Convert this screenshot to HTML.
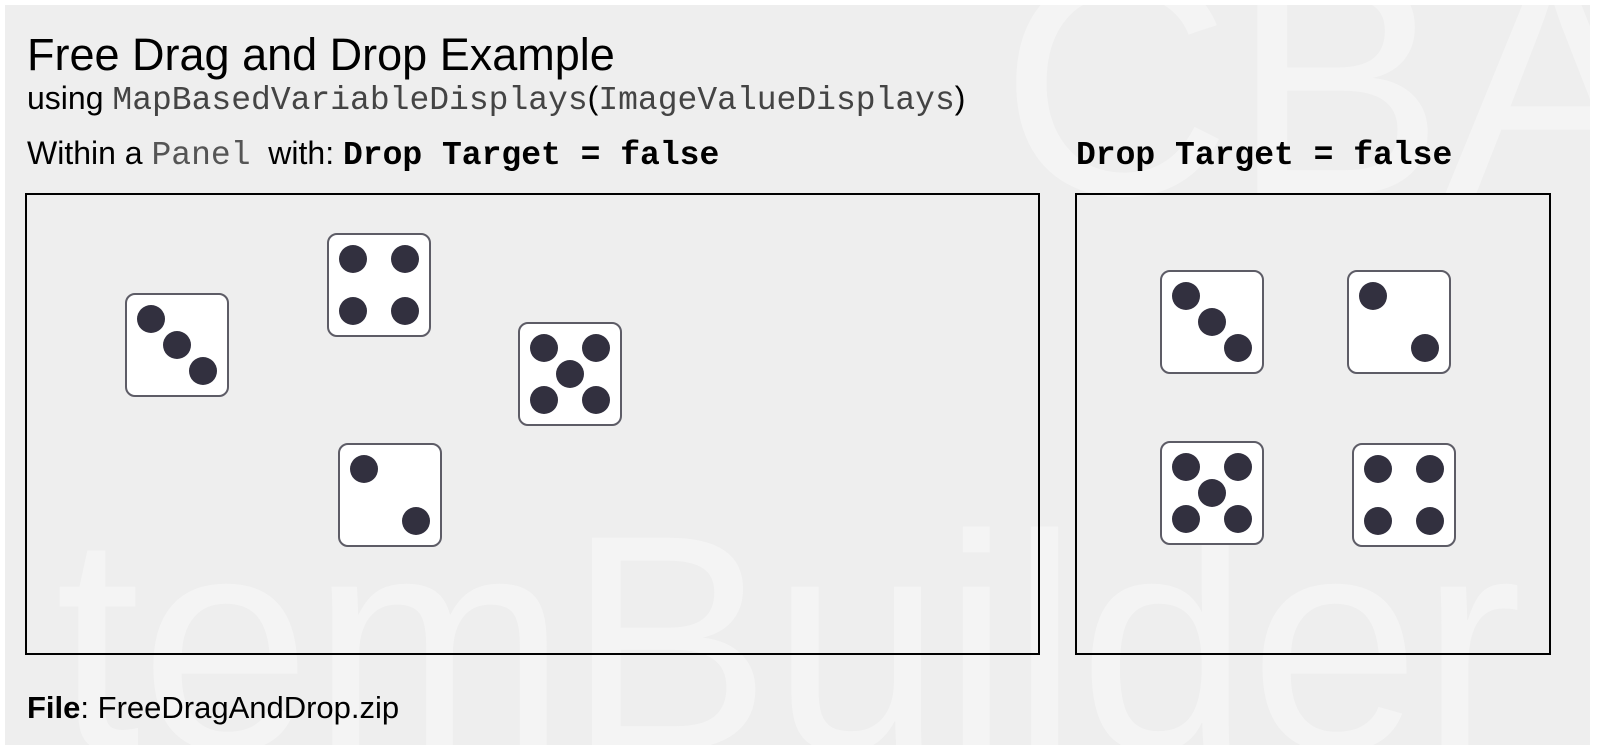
<!DOCTYPE html>
<html><head><meta charset="utf-8"><style>
body{margin:0;width:1600px;height:750px;background:#fff;position:relative;overflow:hidden;font-family:"Liberation Sans",Arial,sans-serif}
#bg{position:absolute;left:5px;top:5px;width:1585px;height:740px;background:#eeeeee;overflow:hidden}
.wm{position:absolute;color:#f4f4f4;line-height:1;white-space:nowrap}
.t{position:absolute;white-space:nowrap;color:#000}
.mono{font-family:"Liberation Mono",monospace;font-size:33px}
.box{position:absolute;border:2px solid #000;box-sizing:border-box}
.die{position:absolute;width:104px;height:104px;background:#fff;border:2px solid #5d5c66;border-radius:10px;box-sizing:border-box}
.d{position:absolute;width:28px;height:28px;border-radius:50%;background:#32303f;transform:translate(-14px,-14px)}
</style></head><body>
<div id="bg">
<div class="wm" style="left:995px;top:-82px;font-size:320px">CBA</div>
<div class="wm" style="left:50px;top:485px;font-size:307px">temBuilder</div>
</div>
<div class="t" style="left:27px;top:29px;font-size:45px">Free Drag and Drop Example</div>
<div class="t" style="left:27px;top:80px;font-size:32px">using <span class="mono" style="color:#444">MapBasedVariableDisplays</span>(<span class="mono" style="color:#444">ImageValueDisplays</span>)</div>
<div class="t" style="left:27px;top:135px;font-size:32px">Within a <span class="mono" style="color:#555">Panel</span>&nbsp; with: <b class="mono">Drop Target = false</b></div>
<div class="t" style="left:1076px;top:135px;font-size:32px"><b class="mono">Drop Target = false</b></div>
<div class="box" style="left:25px;top:193px;width:1015px;height:462px"></div>
<div class="box" style="left:1075px;top:193px;width:476px;height:462px"></div>
<div class="t" style="left:27px;top:690px;font-size:31px"><b>File</b>: FreeDragAndDrop.zip</div>
<div id="dice"></div>
<script>
var P={2:[[26,26],[78,78]],3:[[26,26],[52,52],[78,78]],4:[[26,26],[78,26],[26,78],[78,78]],5:[[26,26],[78,26],[52,52],[26,78],[78,78]]};
var D=[[125,293,3],[327,233,4],[518,322,5],[338,443,2],[1160,270,3],[1347,270,2],[1160,441,5],[1352,443,4]];
var h='';D.forEach(function(a){h+='<div class="die" style="left:'+a[0]+'px;top:'+a[1]+'px">';P[a[2]].forEach(function(p){h+='<div class="d" style="left:'+(p[0]-2)+'px;top:'+(p[1]-2)+'px"></div>'});h+='</div>'});
document.getElementById('dice').innerHTML=h;
</script>
</body></html>
